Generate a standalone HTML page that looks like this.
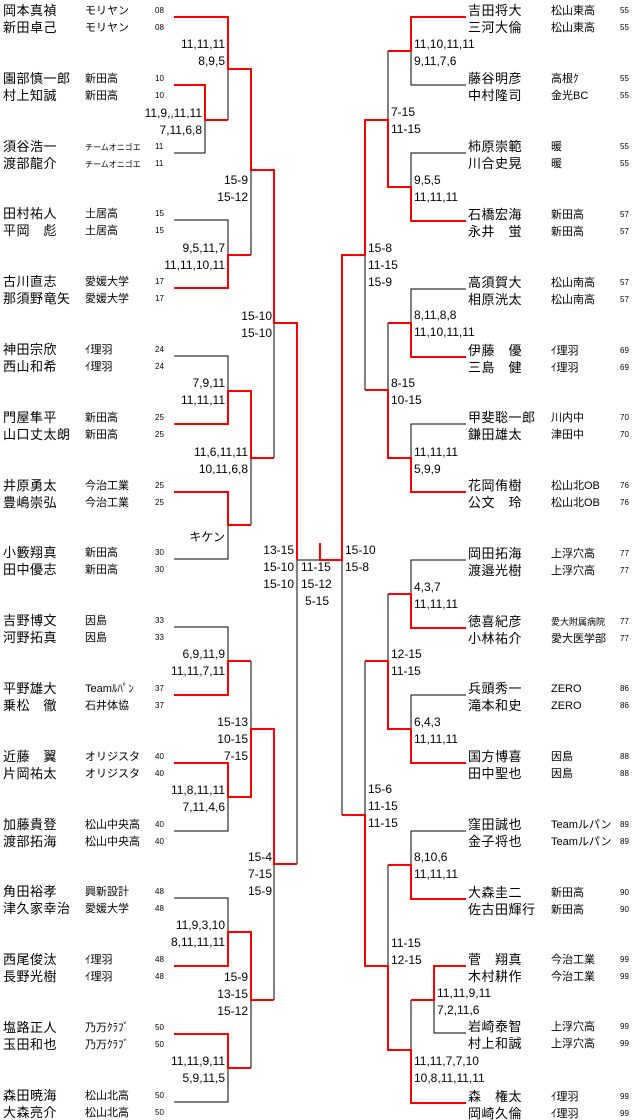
<!DOCTYPE html>
<html><head><meta charset="utf-8"><style>
html,body{margin:0;padding:0;background:#fff;}
svg{display:block;}
.n{font-family:"Liberation Sans","Noto Sans CJK JP",sans-serif;font-size:13px;letter-spacing:0.5px;fill:#000;}
.t{font-family:"Liberation Sans","Noto Sans CJK JP",sans-serif;font-size:11px;fill:#000;}
.ts{font-family:"Liberation Sans","Noto Sans CJK JP",sans-serif;font-size:8px;fill:#000;}
.k{font-family:"Liberation Sans",sans-serif;font-size:8px;fill:#000;}
.s{font-family:"Liberation Sans","Noto Sans CJK JP",sans-serif;font-size:12px;fill:#000;}
.e{text-anchor:end;}
.b{fill:none;stroke:#000;stroke-width:1;}
.r{fill:none;stroke:#f00;stroke-width:2;}
</style></head><body>
<svg width="640" height="1120" viewBox="0 0 640 1120" xmlns="http://www.w3.org/2000/svg">
<!-- left black -->
<path class="b" d="M174 153H205V120 M228 69V120 M174 220H228V255 M251 170V255 M174 356H228V391 M274 323V458 M174 559H228V525 M251 458V525 M297 560V864 M297 560H320 M174 627H228V661 M251 661V729 M174 831H228V797 M274 864V1000 M174 898H228V932 M251 1000V1068 M174 1102H228V1068"/>
<!-- right black -->
<path class="b" d="M466 85H411V51 M388 51V120 M466 153H411V187 M365 255V390 M466 289H411V323 M388 323V390 M466 424H411V458 M342 560V815 M466 560H411V594 M388 594V661 M466 695H411V729 M365 661V815 M466 831H411V865 M388 865V966 M466 1033H434V1000 M411 1000V1050"/>
<!-- red -->
<path class="r" d="M174 17H228V69H251V170H274V323H297V560"/>
<path class="r" d="M174 85H205V120H228"/>
<path class="r" d="M174 288H228V255H251"/>
<path class="r" d="M174 424H228V391H251V458H274"/>
<path class="r" d="M174 492H228V525H251"/>
<path class="r" d="M174 695H228V661H251"/>
<path class="r" d="M174 763H228V797H251V729H274V864H297"/>
<path class="r" d="M174 966H228V932H251V1000H274"/>
<path class="r" d="M174 1034H228V1068H251"/>
<path class="r" d="M320 543V560H342V255H365V120H388V187H411V221H466"/>
<path class="r" d="M466 17H411V51H388"/>
<path class="r" d="M466 357H411V323H388"/>
<path class="r" d="M466 492H411V458H388V390H365"/>
<path class="r" d="M466 628H411V594H388"/>
<path class="r" d="M466 763H411V729H388V661H365"/>
<path class="r" d="M466 899H411V865H388"/>
<path class="r" d="M466 966H434V1000H411"/>
<path class="r" d="M466 1103H411V1050H388V966H365V815H342"/>

<!-- left names -->
<g class="n">
<text x="3" y="15">岡本真禎</text><text x="3" y="32">新田卓己</text>
<text x="3" y="83">園部慎一郎</text><text x="3" y="100">村上知誠</text>
<text x="3" y="151">須谷浩一</text><text x="3" y="168">渡部龍介</text>
<text x="3" y="218">田村祐人</text><text x="3" y="235">平岡　彪</text>
<text x="3" y="286">古川直志</text><text x="3" y="303">那須野竜矢</text>
<text x="3" y="354">神田宗欣</text><text x="3" y="371">西山和希</text>
<text x="3" y="422">門屋隼平</text><text x="3" y="439">山口丈太朗</text>
<text x="3" y="490">井原勇太</text><text x="3" y="507">豊嶋崇弘</text>
<text x="3" y="557">小籔翔真</text><text x="3" y="574">田中優志</text>
<text x="3" y="625">吉野博文</text><text x="3" y="642">河野拓真</text>
<text x="3" y="693">平野雄大</text><text x="3" y="710">乗松　徹</text>
<text x="3" y="761">近藤　翼</text><text x="3" y="778">片岡祐太</text>
<text x="3" y="829">加藤貴登</text><text x="3" y="846">渡部拓海</text>
<text x="3" y="896">角田裕孝</text><text x="3" y="913">津久家幸治</text>
<text x="3" y="964">西尾俊汰</text><text x="3" y="981">長野光樹</text>
<text x="3" y="1032">塩路正人</text><text x="3" y="1049">玉田和也</text>
<text x="3" y="1100">森田暁海</text><text x="3" y="1117">大森亮介</text>
</g>
<g class="t">
<text x="85" y="14">モリヤン</text><text x="85" y="31">モリヤン</text>
<text x="85" y="82">新田高</text><text x="85" y="99">新田高</text>
<text x="85" y="150" style="font-size:8px">チームオニゴエ</text><text x="85" y="167" style="font-size:8px">チームオニゴエ</text>
<text x="85" y="217">土居高</text><text x="85" y="234">土居高</text>
<text x="85" y="285">愛媛大学</text><text x="85" y="302">愛媛大学</text>
<text x="85" y="353">ｲ理羽</text><text x="85" y="370">ｲ理羽</text>
<text x="85" y="421">新田高</text><text x="85" y="438">新田高</text>
<text x="85" y="489">今治工業</text><text x="85" y="506">今治工業</text>
<text x="85" y="556">新田高</text><text x="85" y="573">新田高</text>
<text x="85" y="624">因島</text><text x="85" y="641">因島</text>
<text x="85" y="692">Teamﾙﾊﾟﾝ</text><text x="85" y="709">石井体協</text>
<text x="85" y="760">オリジスタ</text><text x="85" y="777">オリジスタ</text>
<text x="85" y="828">松山中央高</text><text x="85" y="845">松山中央高</text>
<text x="85" y="895">興新設計</text><text x="85" y="912">愛媛大学</text>
<text x="85" y="963">ｲ理羽</text><text x="85" y="980">ｲ理羽</text>
<text x="85" y="1031">乃万ｸﾗﾌﾞ</text><text x="85" y="1048">乃万ｸﾗﾌﾞ</text>
<text x="85" y="1099">松山北高</text><text x="85" y="1116">松山北高</text>
</g>
<g class="k">
<text x="155" y="13">08</text><text x="155" y="30">08</text>
<text x="155" y="81">10</text><text x="155" y="98">10</text>
<text x="155" y="149">11</text><text x="155" y="166">11</text>
<text x="155" y="216">15</text><text x="155" y="233">15</text>
<text x="155" y="284">17</text><text x="155" y="301">17</text>
<text x="155" y="352">24</text><text x="155" y="369">24</text>
<text x="155" y="420">25</text><text x="155" y="437">25</text>
<text x="155" y="488">25</text><text x="155" y="505">25</text>
<text x="155" y="555">30</text><text x="155" y="572">30</text>
<text x="155" y="623">33</text><text x="155" y="640">33</text>
<text x="155" y="691">37</text><text x="155" y="708">37</text>
<text x="155" y="759">40</text><text x="155" y="776">40</text>
<text x="155" y="827">40</text><text x="155" y="844">40</text>
<text x="155" y="894">48</text><text x="155" y="911">48</text>
<text x="155" y="962">48</text><text x="155" y="979">48</text>
<text x="155" y="1030">50</text><text x="155" y="1047">50</text>
<text x="155" y="1098">50</text><text x="155" y="1115">50</text>
</g>

<!-- right names -->
<g class="n">
<text x="468" y="15">吉田将大</text><text x="468" y="32">三河大倫</text>
<text x="468" y="83">藤谷明彦</text><text x="468" y="100">中村隆司</text>
<text x="468" y="151">柿原崇範</text><text x="468" y="168">川合史晃</text>
<text x="468" y="219">石橋宏海</text><text x="468" y="236">永井　蛍</text>
<text x="468" y="287">高須賀大</text><text x="468" y="304">相原洸太</text>
<text x="468" y="355">伊藤　優</text><text x="468" y="372">三島　健</text>
<text x="468" y="422">甲斐聡一郎</text><text x="468" y="439">鎌田雄太</text>
<text x="468" y="490">花岡侑樹</text><text x="468" y="507">公文　玲</text>
<text x="468" y="558">岡田拓海</text><text x="468" y="575">渡邉光樹</text>
<text x="468" y="626">徳喜紀彦</text><text x="468" y="643">小林祐介</text>
<text x="468" y="693">兵頭秀一</text><text x="468" y="710">滝本和史</text>
<text x="468" y="761">国方博喜</text><text x="468" y="778">田中聖也</text>
<text x="468" y="829">窪田誠也</text><text x="468" y="846">金子将也</text>
<text x="468" y="897">大森圭二</text><text x="468" y="914">佐古田輝行</text>
<text x="468" y="964">菅　翔真</text><text x="468" y="981">木村耕作</text>
<text x="468" y="1031">岩崎泰智</text><text x="468" y="1048">村上和誠</text>
<text x="468" y="1101">森　権太</text><text x="468" y="1118">岡崎久倫</text>
</g>
<g class="t">
<text x="551" y="14">松山東高</text><text x="551" y="31">松山東高</text>
<text x="551" y="82">高根ｸ</text><text x="551" y="99">金光BC</text>
<text x="551" y="150">暖</text><text x="551" y="167">暖</text>
<text x="551" y="218">新田高</text><text x="551" y="235">新田高</text>
<text x="551" y="286">松山南高</text><text x="551" y="303">松山南高</text>
<text x="551" y="354">ｲ理羽</text><text x="551" y="371">ｲ理羽</text>
<text x="551" y="421">川内中</text><text x="551" y="438">津田中</text>
<text x="551" y="489">松山北OB</text><text x="551" y="506">松山北OB</text>
<text x="551" y="557">上浮穴高</text><text x="551" y="574">上浮穴高</text>
<text x="551" y="625" style="font-size:9px">愛大附属病院</text><text x="551" y="642">愛大医学部</text>
<text x="551" y="692">ZERO</text><text x="551" y="709">ZERO</text>
<text x="551" y="760">因島</text><text x="551" y="777">因島</text>
<text x="551" y="828">Teamルパン</text><text x="551" y="845">Teamルパン</text>
<text x="551" y="896">新田高</text><text x="551" y="913">新田高</text>
<text x="551" y="963">今治工業</text><text x="551" y="980">今治工業</text>
<text x="551" y="1030">上浮穴高</text><text x="551" y="1047">上浮穴高</text>
<text x="551" y="1100">ｲ理羽</text><text x="551" y="1117">ｲ理羽</text>
</g>
<g class="k">
<text x="620" y="13">55</text><text x="620" y="30">55</text>
<text x="620" y="81">55</text><text x="620" y="98">55</text>
<text x="620" y="149">55</text><text x="620" y="166">55</text>
<text x="620" y="217">57</text><text x="620" y="234">57</text>
<text x="620" y="285">57</text><text x="620" y="302">57</text>
<text x="620" y="353">69</text><text x="620" y="370">69</text>
<text x="620" y="420">70</text><text x="620" y="437">70</text>
<text x="620" y="488">76</text><text x="620" y="505">76</text>
<text x="620" y="556">77</text><text x="620" y="573">77</text>
<text x="620" y="624">77</text><text x="620" y="641">77</text>
<text x="620" y="691">86</text><text x="620" y="708">86</text>
<text x="620" y="759">88</text><text x="620" y="776">88</text>
<text x="620" y="827">89</text><text x="620" y="844">89</text>
<text x="620" y="895">90</text><text x="620" y="912">90</text>
<text x="620" y="962">99</text><text x="620" y="979">99</text>
<text x="620" y="1029">99</text><text x="620" y="1046">99</text>
<text x="620" y="1099">99</text><text x="620" y="1116">99</text>
</g>

<!-- left scores -->
<g class="s e">
<text x="225" y="48">11,11,11</text><text x="225" y="65">8,9,5</text>
<text x="202" y="117">11,9,,11,11</text><text x="202" y="134">7,11,6,8</text>
<text x="248" y="184">15-9</text><text x="248" y="201">15-12</text>
<text x="225" y="252">9,5,11,7</text><text x="225" y="269">11,11,10,11</text>
<text x="272" y="320">15-10</text><text x="272" y="337">15-10</text>
<text x="225" y="387">7,9,11</text><text x="225" y="404">11,11,11</text>
<text x="248" y="456">11,6,11,11</text><text x="248" y="473">10,11,6,8</text>
<text x="225" y="541">キケン</text>
<text x="294" y="554">13-15</text><text x="294" y="571">15-10</text><text x="294" y="588">15-10</text>
<text x="225" y="658">6,9,11,9</text><text x="225" y="675">11,11,7,11</text>
<text x="248" y="726">15-13</text><text x="248" y="743">10-15</text><text x="248" y="760">7-15</text>
<text x="225" y="794">11,8,11,11</text><text x="225" y="811">7,11,4,6</text>
<text x="272" y="861">15-4</text><text x="272" y="878">7-15</text><text x="272" y="895">15-9</text>
<text x="225" y="929">11,9,3,10</text><text x="225" y="946">8,11,11,11</text>
<text x="248" y="981">15-9</text><text x="248" y="998">13-15</text><text x="248" y="1015">15-12</text>
<text x="225" y="1065">11,11,9,11</text><text x="225" y="1082">5,9,11,5</text>
</g>
<!-- middle + right scores -->
<g class="s">
<text x="301" y="571">11-15</text><text x="301" y="588">15-12</text><text x="305" y="605">5-15</text>
<text x="345" y="554">15-10</text><text x="345" y="571">15-8</text>
<text x="414" y="48">11,10,11,11</text><text x="414" y="65">9,11,7,6</text>
<text x="391" y="116">7-15</text><text x="391" y="133">11-15</text>
<text x="414" y="184">9,5,5</text><text x="414" y="201">11,11,11</text>
<text x="368" y="252">15-8</text><text x="368" y="269">11-15</text><text x="368" y="286">15-9</text>
<text x="414" y="319">8,11,8,8</text><text x="414" y="336">11,10,11,11</text>
<text x="391" y="387">8-15</text><text x="391" y="404">10-15</text>
<text x="414" y="456">11,11,11</text><text x="414" y="473">5,9,9</text>
<text x="414" y="591">4,3,7</text><text x="414" y="608">11,11,11</text>
<text x="391" y="658">12-15</text><text x="391" y="675">11-15</text>
<text x="414" y="726">6,4,3</text><text x="414" y="743">11,11,11</text>
<text x="368" y="793">15-6</text><text x="368" y="810">11-15</text><text x="368" y="827">11-15</text>
<text x="414" y="861">8,10,6</text><text x="414" y="878">11,11,11</text>
<text x="391" y="947">11-15</text><text x="391" y="964">12-15</text>
<text x="437" y="997">11,11,9,11</text><text x="437" y="1014">7,2,11,6</text>
<text x="414" y="1065">11,11,7,7,10</text><text x="414" y="1082">10,8,11,11,11</text>
</g>
</svg>
</body></html>
